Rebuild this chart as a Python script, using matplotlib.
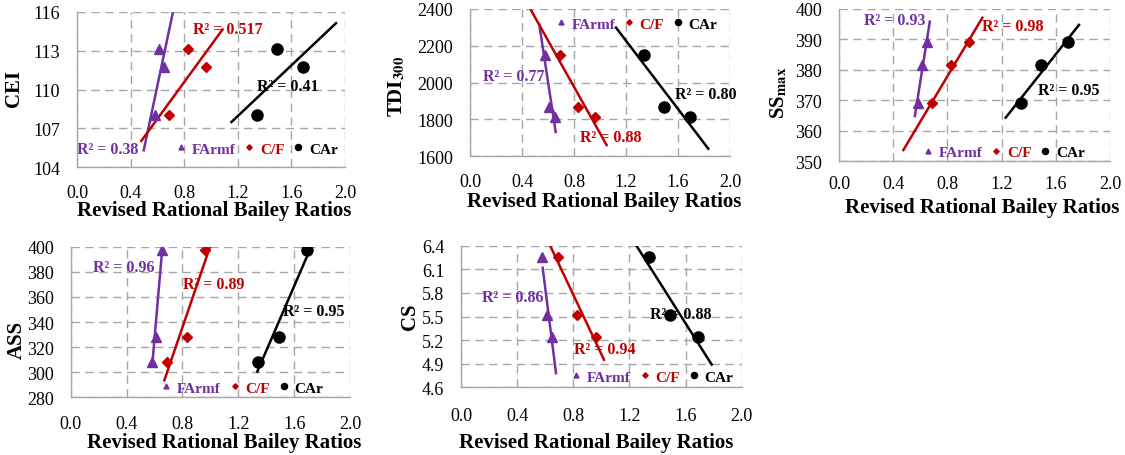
import matplotlib.pyplot as plt
import numpy as np

plt.rcParams['font.family'] = ['Liberation Serif', 'DejaVu Serif']
plt.rcParams['mathtext.fontset'] = 'stix'

# Revised rational Bailey ratios of the three mixtures
farmf_ratio = [0.58, 0.61, 0.65]
cf_ratio = [0.69, 0.83, 0.96]
car_ratio = [1.34, 1.49, 1.69]

# Measured properties of the same three mixtures
cei = [108.0, 113.1, 111.75]
tdi300 = [2150, 1866, 1812]
ss_max = [369.0, 381.4, 389.0]
ass = [308.5, 328.0, 397.0]
cs = [6.26, 5.525, 5.245]

# R² shown on the chart (FArmf, C/F, CAr)
r2_cei = ['0.38', '0.517', '0.41']
r2_tdi = ['0.77', '0.88', '0.80']
r2_ss = ['0.93', '0.98', '0.95']
r2_ass = ['0.96', '0.89', '0.95']
r2_cs = ['0.86', '0.94', '0.88']

series_names = ['FArmf', 'C/F', 'CAr']
ratios = [farmf_ratio, cf_ratio, car_ratio]
colors = ['#7030A0', '#C00000', '#000000']
markers = ['^', 'D', 'o']
msizes = [6.5, 5, 8]

W, H = 1125, 456

# layout of each panel: pixel box, y axis, trendline x-ranges, R² label spots,
# legend spot, axis label spots
panels = [
    dict(box=(77, 12.7, 345, 168.3), y=cei, r2=r2_cei, ylabel='CEI',
         ylim=(104, 116), ystep=3, yfmt='{:.0f}',
         spans=[(0.498, 0.722), (0.48, 1.086), (1.153, 1.933)],
         r2pos=[(0.0, 105.4), (0.867, 114.67), (1.34, 110.24)],
         leg=(0.673, 0.118), xl=(0.513, -0.272), yl=(-0.235, 0.514), xpad=12),
    dict(box=(470, 10, 730, 157), y=tdi300, r2=r2_tdi,
         ylabel=r'TDI$_{\mathbf{300}}$',
         ylim=(1600, 2400), ystep=200, yfmt='{:.0f}',
         spans=[(0.533, 0.659), (0.469, 1.051), (1.123, 1.833)],
         r2pos=[(0.103, 2036), (0.846, 1706), (1.577, 1937)],
         leg=(0.642, 0.898), xl=(0.515, -0.304), yl=(-0.28, 0.478), xpad=12),
    dict(box=(839, 9.5, 1110, 162.3), y=ss_max, r2=r2_ss,
         ylabel=r'SS$_{\mathbf{max}}$',
         ylim=(350, 400), ystep=10, yfmt='{:.0f}',
         spans=[(0.56, 0.67), (0.475, 1.058), (1.23, 1.771)],
         r2pos=[(0.185, 396.1), (1.053, 394.3), (1.469, 373.4)],
         leg=(0.61, 0.059), xl=(0.527, -0.301), yl=(-0.22, 0.452), xpad=10),
    dict(box=(70.8, 247.7, 350, 398.3), y=ass, r2=r2_ass, ylabel='ASS',
         ylim=(280, 400), ystep=20, yfmt='{:.0f}',
         spans=[(0.586, 0.656), (0.67, 0.997), (1.336, 1.701)],
         r2pos=[(0.161, 384), (0.801, 370.6), (1.518, 348.8)],
         leg=(0.615, 0.062), xl=(0.548, -0.296), yl=(-0.194, 0.387), xpad=13),
    dict(box=(461, 246.7, 741.7, 388.3), y=cs, r2=r2_cs, ylabel='CS',
         ylim=(4.6, 6.4), ystep=0.3, yfmt='{:.1f}',
         spans=[(0.582, 0.677), (0.629, 1.019), (1.235, 1.786)],
         r2pos=[(0.147, 5.745), (0.805, 5.086), (1.347, 5.53)],
         leg=(0.682, 0.075), xl=(0.481, -0.388), yl=(-0.182, 0.506), xpad=14),
]

fig = plt.figure(figsize=(W / 100, H / 100), dpi=100)

for p in panels:
    x0, y0, x1, y1 = p['box']
    ax = fig.add_axes([x0 / W, 1 - y1 / H, (x1 - x0) / W, (y1 - y0) / H])
    ax.set_axisbelow(True)

    for xs, color, marker, ms, name, r2, span, pos in zip(
            ratios, colors, markers, msizes, series_names, p['r2'],
            p['spans'], p['r2pos']):
        ax.plot(xs, p['y'], linestyle='none', marker=marker, ms=ms,
                color=color, label=name, zorder=3)
        # linear trendline
        k, b = np.polyfit(xs, p['y'], 1)
        tx = np.array(span)
        ax.plot(tx, k * tx + b, color=color, lw=1.8, zorder=2)
        ax.text(pos[0], pos[1], 'R² = ' + r2, color=color, fontsize=11.5,
                fontweight='bold', ha='left', va='center', zorder=1)

    ax.set_xlim(0, 2.0)
    ax.set_ylim(*p['ylim'])
    ax.set_xticks(np.arange(0, 2.01, 0.4))
    ax.set_xticklabels(['{:.1f}'.format(v) for v in np.arange(0, 2.01, 0.4)])
    yt = np.arange(p['ylim'][0], p['ylim'][1] + p['ystep'] / 2, p['ystep'])
    ax.set_yticks(yt)
    ax.set_yticklabels([p['yfmt'].format(v) for v in yt])
    ax.tick_params(axis='both', length=0, labelsize=13)
    ax.tick_params(axis='y', pad=12)
    ax.tick_params(axis='x', pad=p['xpad'])

    ax.grid(True, color='#A6A6A6', lw=1, linestyle=(0, (6, 4)))
    for s in ['top', 'right']:
        ax.spines[s].set_visible(False)
    for s in ['left', 'bottom']:
        ax.spines[s].set_color('#A6A6A6')
        ax.spines[s].set_linewidth(1)

    ax.set_xlabel('Revised Rational Bailey Ratios', fontsize=15,
                  fontweight='bold', va='center')
    ax.xaxis.set_label_coords(*p['xl'])
    ax.set_ylabel(p['ylabel'], fontsize=15, fontweight='bold', va='center')
    ax.yaxis.set_label_coords(*p['yl'])

    leg = ax.legend(loc='center', bbox_to_anchor=p['leg'], ncol=3,
                    frameon=False, markerscale=0.55, handlelength=0.6,
                    handletextpad=0.4, columnspacing=0.6, borderpad=0,
                    prop={'size': 11, 'weight': 'bold'})
    for txt, color in zip(leg.get_texts(), colors):
        txt.set_color(color)

plt.savefig('out.png', dpi=100)
plt.close()
